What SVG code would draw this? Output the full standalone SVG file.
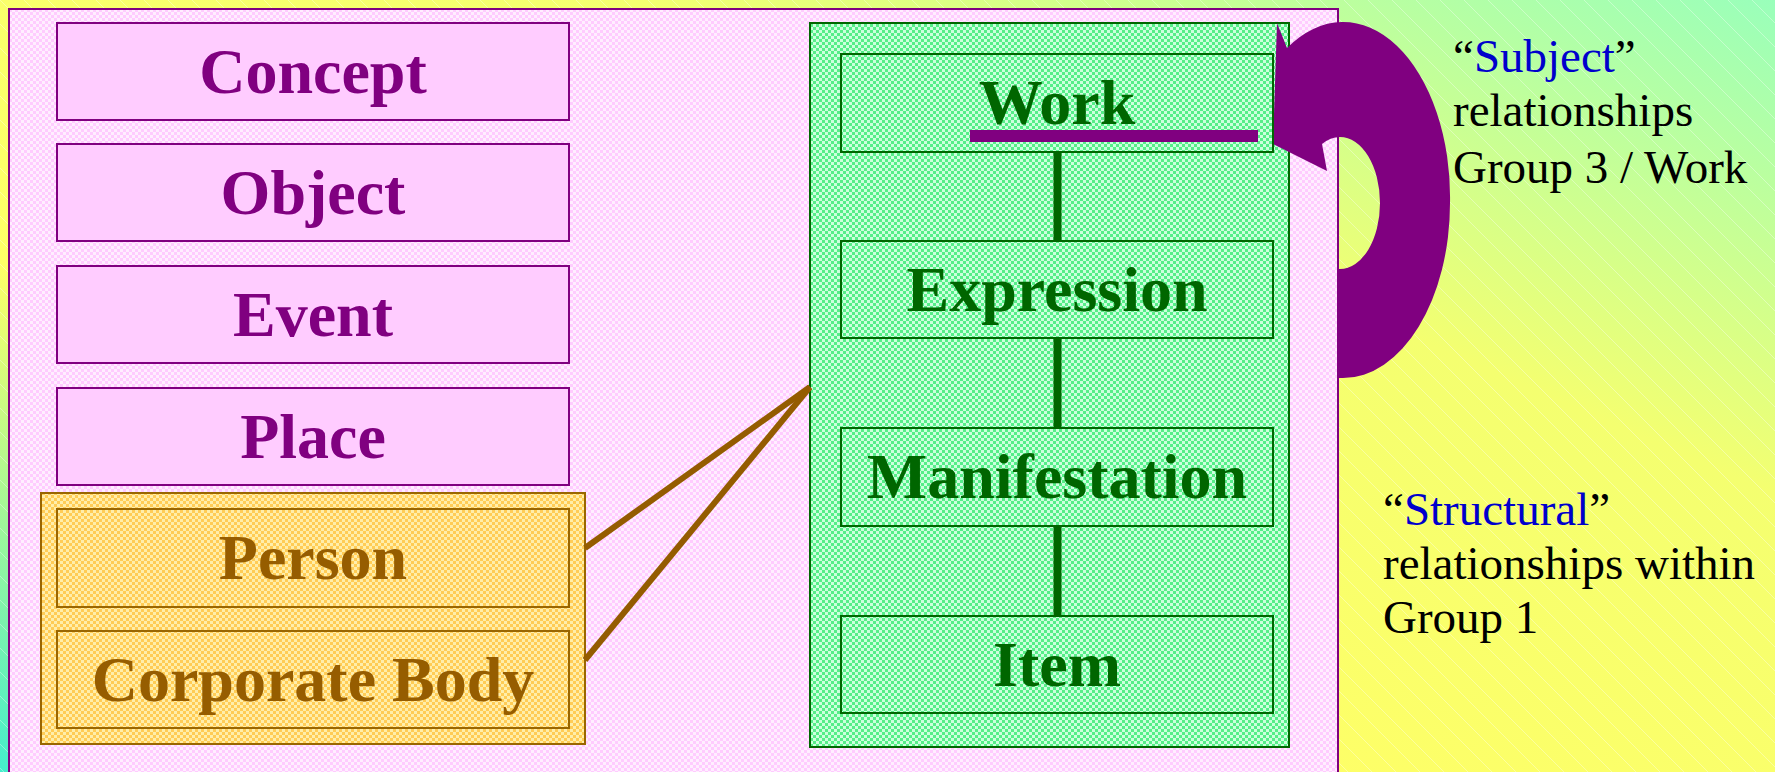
<svg xmlns="http://www.w3.org/2000/svg" width="1775" height="772" viewBox="0 0 1775 772">
  <defs>
    <linearGradient id="bg" x1="0" y1="1" x2="1" y2="0">
      <stop offset="0" stop-color="#44eecc"/>
      <stop offset="0.33" stop-color="#ffff66"/>
      <stop offset="0.68" stop-color="#f4ff70"/>
      <stop offset="1" stop-color="#99ffbb"/>
    </linearGradient>
    <pattern id="hatch" width="24" height="24" patternUnits="userSpaceOnUse">
      <path d="M0,0 L24,24" stroke="#ffffff" stroke-opacity="0.35" stroke-width="1"/>
    </pattern>
    <pattern id="pinkChk" width="6" height="6" patternUnits="userSpaceOnUse">
      <rect width="6" height="6" fill="#ffeeff"/>
      <rect width="3" height="3" fill="#ffccff"/>
      <rect x="3" y="3" width="3" height="3" fill="#ffccff"/>
    </pattern>
    <pattern id="greenChk" width="6" height="6" patternUnits="userSpaceOnUse">
      <rect width="6" height="6" fill="#ccffdd"/>
      <rect width="3" height="3" fill="#55ee88"/>
      <rect x="3" y="3" width="3" height="3" fill="#55ee88"/>
    </pattern>
    <pattern id="orangeChk" width="6" height="6" patternUnits="userSpaceOnUse">
      <rect width="6" height="6" fill="#ffeeaa"/>
      <rect width="3" height="3" fill="#ffcc55"/>
      <rect x="3" y="3" width="3" height="3" fill="#ffcc55"/>
    </pattern>
  </defs>
  <style>
    .lbl { font-family: "Liberation Serif", "Times New Roman", serif; font-weight: bold; font-size: 64px; text-anchor: middle; }
    .pbox { fill: #ffccff; stroke: #800080; stroke-width: 2; }
    .ptxt { fill: #800080; }
    .gbox { fill: url(#greenChk); stroke: #006600; stroke-width: 2; }
    .gtxt { fill: #006600; }
    .obox { fill: url(#orangeChk); stroke: #996600; stroke-width: 2; }
    .otxt { fill: #965d00; }
    .note { font-family: "Liberation Serif", "Times New Roman", serif; font-size: 47px; fill: #000000; }
    .blue { fill: #0000cc; }
  </style>

  <!-- background -->
  <rect width="1775" height="772" fill="url(#bg)"/>
  <rect width="1775" height="772" fill="url(#hatch)"/>

  <!-- main panel -->
  <rect id="panel" x="9" y="9" width="1329" height="775" fill="url(#pinkChk)" stroke="#800080" stroke-width="2"/>

  <!-- Group 3 entities -->
  <g id="concept">
    <rect class="pbox" x="57" y="23" width="512" height="97"/>
    <text class="lbl ptxt" x="313" y="93">Concept</text>
  </g>
  <g id="object">
    <rect class="pbox" x="57" y="144" width="512" height="97"/>
    <text class="lbl ptxt" x="313" y="214">Object</text>
  </g>
  <g id="event">
    <rect class="pbox" x="57" y="266" width="512" height="97"/>
    <text class="lbl ptxt" x="313" y="336">Event</text>
  </g>
  <g id="place">
    <rect class="pbox" x="57" y="388" width="512" height="97"/>
    <text class="lbl ptxt" x="313" y="458">Place</text>
  </g>

  <!-- Group 2 -->
  <g id="group2">
    <rect class="obox" x="41" y="493" width="544" height="251"/>
  </g>
  <g id="person">
    <rect class="obox" x="57" y="509" width="512" height="98"/>
    <text class="lbl otxt" x="313" y="579">Person</text>
  </g>
  <g id="corporate-body">
    <rect class="obox" x="57" y="631" width="512" height="97"/>
    <text class="lbl otxt" x="313" y="701">Corporate Body</text>
  </g>

  <!-- Group 1 -->
  <g id="group1">
    <rect class="gbox" x="810" y="23" width="479" height="724"/>
  </g>

  <!-- connectors -->
  <g id="connectors">
    <g stroke="#006600" stroke-width="8">
      <line x1="1057.5" y1="152" x2="1057.5" y2="241"/>
      <line x1="1057.5" y1="338" x2="1057.5" y2="428"/>
      <line x1="1057.5" y1="526" x2="1057.5" y2="616"/>
    </g>
    <g stroke="#945c00" stroke-width="6" fill="none">
      <line x1="585" y1="548" x2="810" y2="387"/>
      <line x1="585" y1="660" x2="810" y2="387"/>
    </g>
    <path id="subject-arrow" fill="#800080" d="M1277,23 L1287,48 A107,175 0 0 1 1450,203 A107,175 0 0 1 1343,378 L1339,378 L1339,269 L1340,269 A40,66 0 0 0 1380,203 A40,66 0 0 0 1340,137 A40,66 0 0 0 1322,144 L1327,171 L1273,144 Z"/>
  </g>

  <g id="work">
    <rect class="gbox" x="841" y="54" width="432" height="98"/>
    <text class="lbl gtxt" x="1057" y="124">Work</text>
    <rect x="970" y="130" width="288" height="12" fill="#800080"/>
  </g>
  <g id="expression">
    <rect class="gbox" x="841" y="241" width="432" height="97"/>
    <text class="lbl gtxt" x="1057" y="311">Expression</text>
  </g>
  <g id="manifestation">
    <rect class="gbox" x="841" y="428" width="432" height="98"/>
    <text class="lbl gtxt" x="1057" y="498">Manifestation</text>
  </g>
  <g id="item">
    <rect class="gbox" x="841" y="616" width="432" height="97"/>
    <text class="lbl gtxt" x="1057" y="686">Item</text>
  </g>

  <!-- notes -->
  <g id="subject-note">
    <text class="note" x="1453" y="72">“<tspan class="blue">Subject</tspan>”</text>
    <text class="note" x="1453" y="126">relationships</text>
    <text class="note" x="1453" y="183">Group 3 / Work</text>
  </g>
  <g id="structural-note">
    <text class="note" x="1383" y="525">“<tspan class="blue">Structural</tspan>”</text>
    <text class="note" x="1383" y="579">relationships within</text>
    <text class="note" x="1383" y="633">Group 1</text>
  </g>
</svg>
